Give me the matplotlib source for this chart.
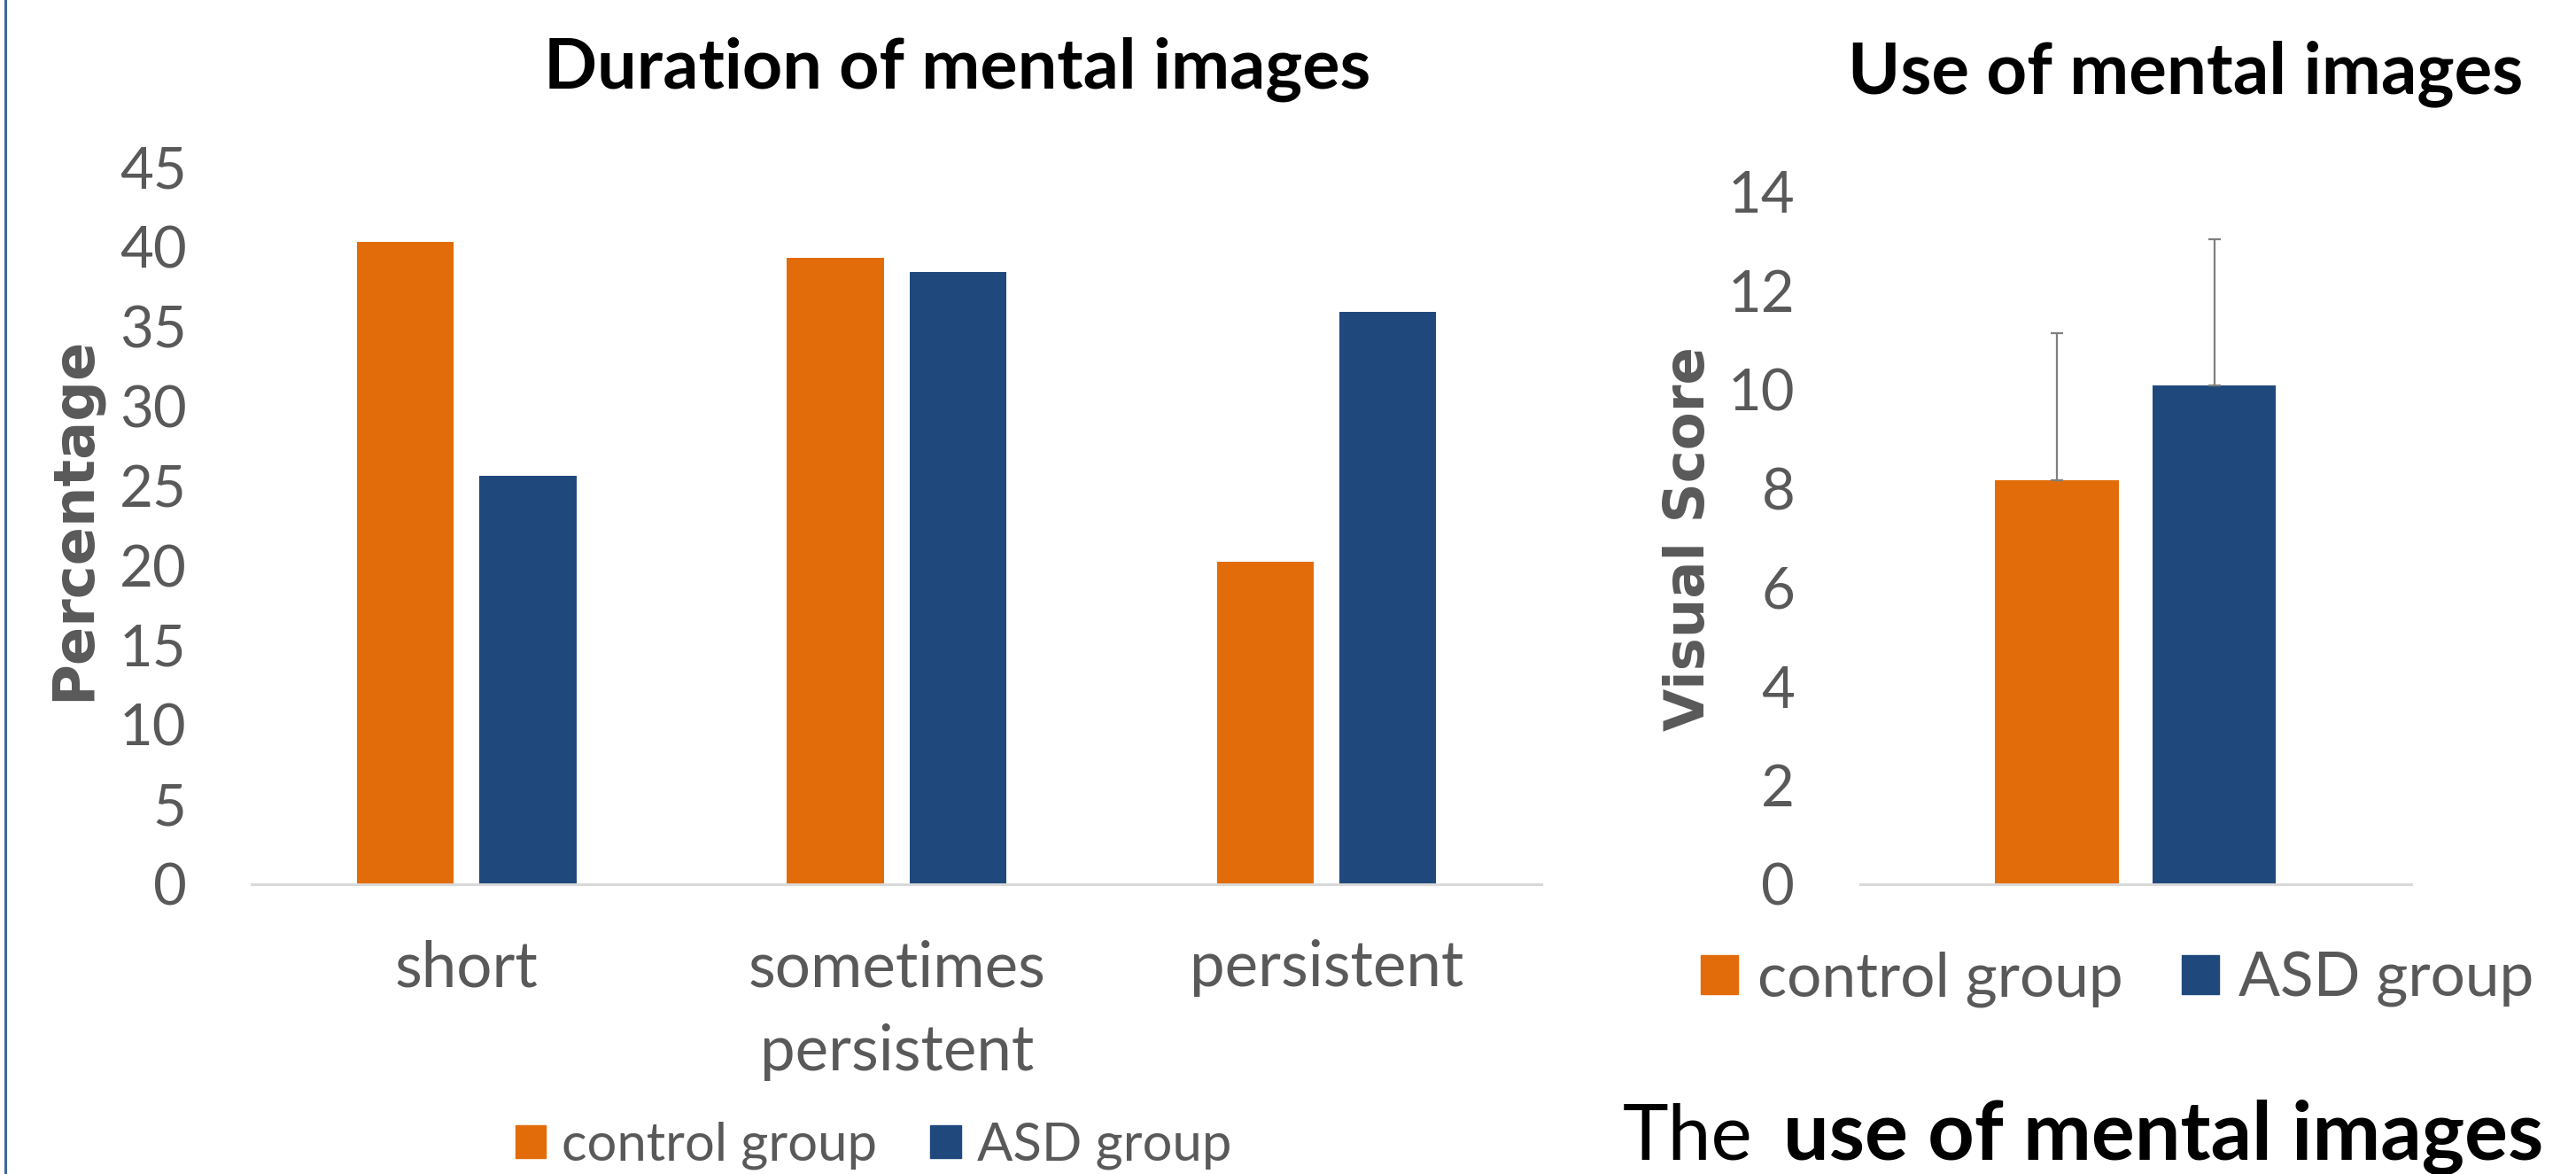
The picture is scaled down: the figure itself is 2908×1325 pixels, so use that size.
import numpy as np
import matplotlib
matplotlib.use('Agg')
import matplotlib.pyplot as plt
from matplotlib.patches import Patch
from matplotlib.lines import Line2D

plt.rcParams['font.family'] = ['Lato', 'DejaVu Sans']

# data
groups = ['control group', 'ASD group']
duration_cats = ['short', 'sometimes\npersistent', 'persistent']
duration_control = [40.3, 39.3, 20.2]
duration_asd = [25.6, 38.4, 35.9]

use_means = [8.17, 10.07]
use_err = [2.97, 2.96]

ORANGE = '#E36C0A'
BLUE = '#1F497D'
GREY = '#595959'

fig = plt.figure(figsize=(29.08, 13.25), dpi=100)

def style(ax):
    for s in ['top', 'right', 'left']:
        ax.spines[s].set_visible(False)
    ax.spines['bottom'].set_color('#D9D9D9')
    ax.spines['bottom'].set_linewidth(2.2)
    ax.tick_params(length=0, labelsize=47, colors=GREY)
    ax.tick_params(axis='y', pad=53)

# left chart - duration
ax1 = fig.add_axes([0.0977, 0.2468, 0.5007, 0.6113])
x = np.arange(len(duration_cats))
w = 0.225
off = 0.1425
ax1.bar(x - off, duration_control, w, color=ORANGE)
ax1.bar(x + off, duration_asd, w, color=BLUE)
ax1.set_xlim(-0.5, 2.5)
ax1.set_ylim(0, 45)
ax1.set_yticks(range(0, 46, 5))
ax1.set_xticks(x)
ax1.set_xticklabels(duration_cats)
style(ax1)
ax1.tick_params(axis='x', pad=45, labelsize=51)
plt.setp(ax1.get_xticklabels(), linespacing=1.55)

# right chart - use of mental images
ax2 = fig.add_axes([0.7221, 0.2468, 0.2139, 0.5902])
xx = np.array([-off, off])
ax2.bar(xx, use_means, w, color=[ORANGE, BLUE])
ax2.errorbar(xx, use_means, yerr=[[0, 0], use_err], fmt='none',
             ecolor='#7F7F7F', elinewidth=1.6, capsize=5, capthick=1.6)
ax2.set_xlim(-0.5, 0.5)
ax2.set_ylim(0, 14)
ax2.set_yticks(range(0, 15, 2))
ax2.set_xticks([])
style(ax2)

# titles and axis labels
fig.text(0.3717, 0.9411, 'Duration of mental images', fontsize=57,
         fontweight='bold', ha='center', va='center')
fig.text(0.8483, 0.9374, 'Use of mental images', fontsize=57.5,
         fontweight='bold', ha='center', va='center')
fig.text(0.0286, 0.558, 'Percentage', rotation=90, fontsize=46,
         family='DejaVu Sans', fontweight='bold', color=GREY,
         ha='center', va='center')
fig.text(0.6558, 0.541, 'Visual Score', rotation=90, fontsize=45,
         family='DejaVu Sans', fontweight='bold', color=GREY,
         ha='center', va='center')

# legends
handles = [Patch(color=ORANGE), Patch(color=BLUE)]
fig.legend(handles, groups, loc='center', bbox_to_anchor=(0.339, 0.0242),
           ncol=2, frameon=False, fontsize=43, labelcolor=GREY,
           handlelength=0.58, handleheight=0.58, handletextpad=0.3,
           columnspacing=1.0, borderpad=0, borderaxespad=0)
fig.legend(handles, groups, loc='center', bbox_to_anchor=(0.822, 0.166),
           ncol=2, frameon=False, fontsize=50, labelcolor=GREY,
           handlelength=0.6, handleheight=0.6, handletextpad=0.32,
           columnspacing=0.95, borderpad=0, borderaxespad=0)

# caption
fig.text(0.630, 0.0128, 'The', fontsize=63, ha='left', va='baseline')
fig.text(0.9873, 0.0128, 'use of mental images', fontsize=66,
         fontweight='bold', ha='right', va='baseline')

# thin frame line at the left edge
fig.add_artist(Line2D([0.0021, 0.0021], [0, 1], transform=fig.transFigure,
                      color='#41669B', lw=2.2))

fig.savefig('out.png', dpi=100)
